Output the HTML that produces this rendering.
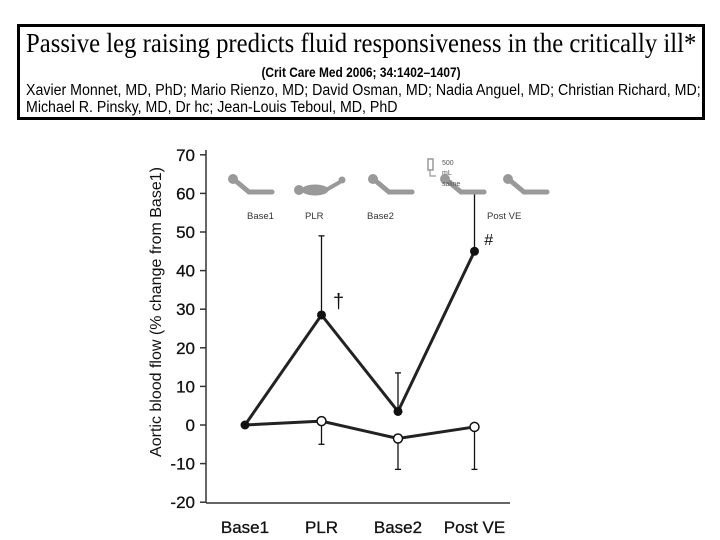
<!DOCTYPE html>
<html><head><meta charset="utf-8"><style>
body{margin:0;background:#fff;width:720px;height:540px;overflow:hidden;font-family:"Liberation Sans",Arial,sans-serif}
#hdr{position:absolute;left:17px;top:24px;width:682px;height:90px;border:3px solid #000}
#t1{position:absolute;left:6px;top:1px;font-family:"Liberation Serif",serif;font-size:27px;transform:scaleX(0.915);transform-origin:left;white-space:nowrap}
#t2{position:absolute;left:0;width:100%;top:37px;text-align:center;font-size:14px;font-weight:bold;transform:scaleX(0.85)}
.au{position:absolute;left:6px;font-size:15.5px;white-space:nowrap;transform:scaleX(0.915);transform-origin:left}
</style></head><body>
<div id="hdr">
<div id="t1">Passive leg raising predicts fluid responsiveness in the critically ill*</div>
<div id="t2">(Crit Care Med 2006; 34:1402–1407)</div>
<div class="au" style="top:55px">Xavier Monnet, MD, PhD; Mario Rienzo, MD; David Osman, MD; Nadia Anguel, MD; Christian Richard, MD;</div>
<div class="au" style="top:72px">Michael R. Pinsky, MD, Dr hc; Jean-Louis Teboul, MD, PhD</div>
</div>
<svg id="chart" width="720" height="540" style="position:absolute;left:0;top:0"></svg>
<script>
const categories=["Base1","PLR","Base2","Post VE"];
const responders=[0,28.5,3.5,45];
const respondersErrUp=[0,49,13.5,60];
const nonResponders=[0,1,-3.5,-0.5];
const nonRespondersErrDown=[0,-5,-11.5,-11.5];
const yTicks=[70,60,50,40,30,20,10,0,-10,-20];
const NS="http://www.w3.org/2000/svg";
const svg=document.getElementById('chart');
function y(v){return 425-v*3.86;}
function x(i){return 245+i*76.5;}
function mk(t,a,p){const e=document.createElementNS(NS,t);for(const k in a)e.setAttribute(k,a[k]);(p||svg).appendChild(e);return e;}
let e;
e=mk('line',{x1:206,y1:150,x2:206,y2:503,stroke:'#333','stroke-width':1.5});


e=mk('line',{x1:206,y1:503,x2:510,y2:503,stroke:'#333','stroke-width':1.5});


yTicks.forEach(v=>{
 mk('line',{x1:200,y1:y(v),x2:206,y2:y(v),stroke:'#333','stroke-width':1.5});
 e=mk('text',{x:195,y:y(v)+6,'text-anchor':'end','font-size':17,fill:'#111',stroke:'#111','stroke-width':0.3});e.textContent=v;
 
 
});
categories.forEach((c,i)=>{
 e=mk('text',{x:x(i),y:533,'text-anchor':'middle','font-size':17,fill:'#111',stroke:'#111','stroke-width':0.3});e.textContent=c;
 
 
});
e=mk('text',{x:0,y:0,'text-anchor':'middle','font-size':16,fill:'#111',transform:'translate(161,312) rotate(-90)'});
e.textContent='Aortic blood flow (% change from Base1)';


responders.forEach((v,i)=>{if(respondersErrUp[i]!==v){
 mk('line',{x1:x(i),y1:y(v),x2:x(i),y2:y(respondersErrUp[i]),stroke:'#111','stroke-width':1.3});
 mk('line',{x1:x(i)-3,y1:y(respondersErrUp[i]),x2:x(i)+3,y2:y(respondersErrUp[i]),stroke:'#111','stroke-width':1.3});}});
nonResponders.forEach((v,i)=>{if(nonRespondersErrDown[i]!==v){
 mk('line',{x1:x(i),y1:y(v),x2:x(i),y2:y(nonRespondersErrDown[i]),stroke:'#111','stroke-width':1.3});
 mk('line',{x1:x(i)-3,y1:y(nonRespondersErrDown[i]),x2:x(i)+3,y2:y(nonRespondersErrDown[i]),stroke:'#111','stroke-width':1.3});}});
e=mk('polyline',{points:responders.map((v,i)=>x(i)+','+y(v)).join(' '),fill:'none',stroke:'#222','stroke-width':3});


e=mk('polyline',{points:nonResponders.map((v,i)=>x(i)+','+y(v)).join(' '),fill:'none',stroke:'#222','stroke-width':3});


responders.forEach((v,i)=>{e=mk('circle',{cx:x(i),cy:y(v),r:4.5,fill:'#111'});
 
 });
nonResponders.forEach((v,i)=>{if(i===0)return;e=mk('circle',{cx:x(i),cy:y(v),r:4.5,fill:'#fff',stroke:'#111','stroke-width':1.5});
 
 });
e=mk('text',{x:333,y:308,'font-size':20,fill:'#111'});e.textContent='†';


e=mk('text',{x:484,y:245,'font-size':16,'font-style':'italic',fill:'#111'});e.textContent='#';


const iconX=[250,318,390,462,525];
iconX.forEach((cx,i)=>{
 const g=mk('g',{fill:'#999',stroke:'#999'});
 
 
 if(i===1){
  mk('circle',{cx:cx-19,cy:190,r:4.5},g);
  mk('ellipse',{cx:cx-3,cy:190,rx:13,ry:5},g);
  mk('path',{d:`M${cx+8},190 L${cx+22},182`,'stroke-width':4,fill:'none'},g);
  mk('circle',{cx:cx+24,cy:180,r:3},g);
 } else {
  mk('circle',{cx:cx-17,cy:179,r:4.5},g);
  mk('path',{d:`M${cx-13},182 L${cx-1},192 L${cx+22},192`,'stroke-width':5,fill:'none','stroke-linecap':'round'},g);
 }
});
mk('rect',{x:428,y:159,width:5,height:11,fill:'none',stroke:'#999','stroke-width':1.5});
mk('path',{d:'M430,170 L430,176 L436,176',fill:'none',stroke:'#999','stroke-width':1.2});
[["500",442,165],["mL",442,175],["saline",442,186]].forEach(t=>{e=mk('text',{x:t[1],y:t[2],'font-size':7,fill:'#555'});e.textContent=t[0];
 
 });
[["Base1",247],["PLR",305],["Base2",367],["Post VE",487]].forEach(t=>{e=mk('text',{x:t[1],y:219,'font-size':9.5,fill:'#333'});e.textContent=t[0];
 
 });
</script>
</body></html>
